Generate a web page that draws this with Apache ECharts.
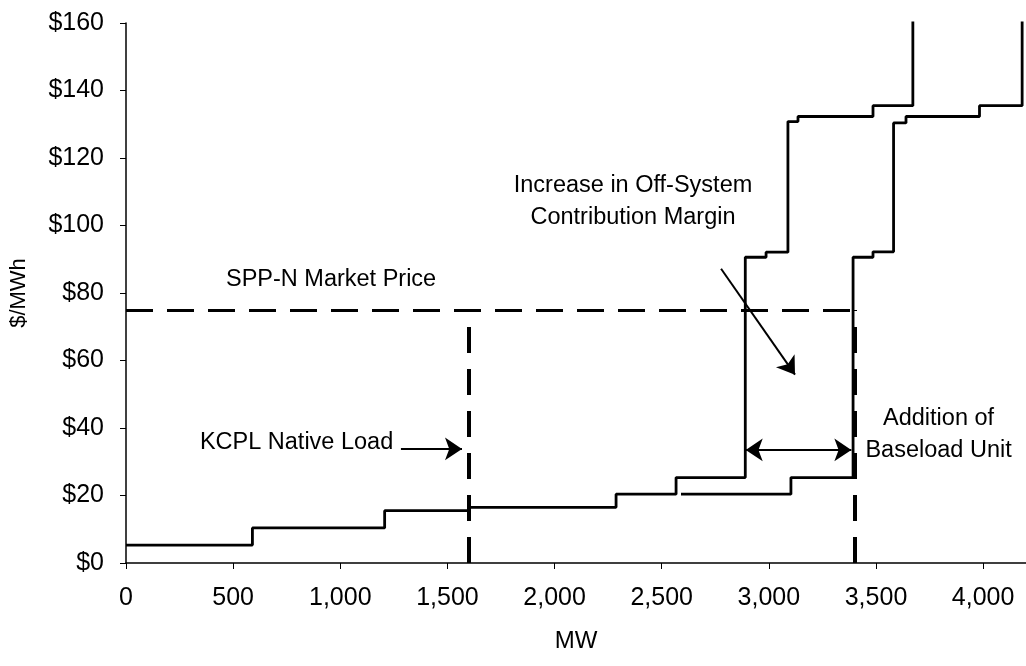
<!DOCTYPE html>
<html>
<head>
<meta charset="utf-8">
<script src="https://cdn.jsdelivr.net/npm/echarts@6/dist/echarts.min.js"></script>
<style>
html,body{margin:0;padding:0;background:#fff;}
#c{width:1026px;height:666px;}
</style>
</head>
<body>
<div id="c"></div>
<script>
// Supply curve without the baseload unit: [MW where step begins, $/MWh]
const curveWithout = [
  [0, 5.3], [590, 10.4], [1207, 15.5], [1600, 16.5], [2287, 20.4],
  [2567, 25.3], [2890, 90.6], [2987, 92.1], [3089, 130.8],
  [3136, 132.3], [3486, 135.5], [3672, 175]
];
// Supply curve with the baseload unit added (visible upper part)
const curveWith = [
  [2590, 20.4], [3103, 25.3], [3393, 90.6], [3486, 92.2],
  [3582, 130.4], [3640, 132.3], [3983, 135.5], [4182, 175]
];
const marketPrice = 75;       // $/MWh
const nativeLoad = 1600;      // MW
const withUnitLoad = 3400;    // MW
const yTicks = [0, 20, 40, 60, 80, 100, 120, 140, 160];
const xTicks = [0, 500, 1000, 1500, 2000, 2500, 3000, 3500, 4000];

const FONT = "'Liberation Sans', Arial, sans-serif";
const chart = echarts.init(document.getElementById('c'), null, {renderer: 'canvas'});

const dashH = {type: [27, 14], color: '#000', width: 3};
const dashV = {type: [26, 16], color: '#000', width: 4};
const arrowStyle = {type: 'solid', color: '#000', width: 2};

function txt(coord, text) {
  return {
    coord: coord, value: text, symbol: 'circle', symbolSize: 0,
    label: {show: true, position: 'inside', formatter: text,
      color: '#000', fontFamily: FONT, fontSize: 23.5, lineHeight: 32, align: 'center', verticalAlign: 'middle'}
  };
}

chart.setOption({
  animation: false,
  backgroundColor: '#fff',
  grid: {left: 126, top: 23, width: 900, height: 540, containLabel: false},
  xAxis: {
    type: 'value', min: 0, max: 4200, interval: 500,
    name: 'MW', nameLocation: 'middle', nameGap: 66,
    nameTextStyle: {color: '#000', fontFamily: FONT, fontSize: 24},
    axisLine: {show: true, onZero: false, lineStyle: {color: '#000', width: 1.5}},
    axisTick: {show: true, length: 6, lineStyle: {color: '#000'}},
    axisLabel: {
      color: '#000', fontFamily: FONT, fontSize: 25, margin: 23,
      showMaxLabel: false,
      formatter: v => xTicks.indexOf(v) >= 0 ? v.toLocaleString('en-US') : ''
    },
    splitLine: {show: false}
  },
  yAxis: {
    type: 'value', min: 0, max: 160, interval: 20,
    name: '$/MWh', nameLocation: 'middle', nameGap: 96, nameRotate: 90,
    nameTextStyle: {color: '#000', fontFamily: FONT, fontSize: 22},
    axisLine: {show: true, lineStyle: {color: '#000', width: 1.5}},
    axisTick: {show: true, length: 6, lineStyle: {color: '#000'}},
    axisLabel: {
      color: '#000', fontFamily: FONT, fontSize: 25, margin: 22,
      formatter: v => yTicks.indexOf(v) >= 0 ? '$' + v : ''
    },
    splitLine: {show: false}
  },
  series: [
    {
      name: 'Without baseload unit', type: 'line', step: 'end',
      data: curveWithout, showSymbol: false, symbol: 'none',
      lineStyle: {color: '#000', width: 2.8}, clip: true,
      markLine: {
        silent: true, animation: false,
        label: {show: false},
        symbol: ['none', 'none'],
        data: [
          [{coord: [0, marketPrice], lineStyle: dashH}, {coord: [withUnitLoad, marketPrice]}],
          [{coord: [nativeLoad, 0], lineStyle: dashV}, {coord: [nativeLoad, 70]}],
          [{coord: [withUnitLoad, 0], lineStyle: dashV}, {coord: [withUnitLoad, marketPrice]}],
          [{coord: [1283, 33.8], lineStyle: arrowStyle, symbol: 'none'}, {coord: [1568, 33.8], symbol: 'arrow', symbolSize: 17}],
          [{coord: [2777, 87.2], lineStyle: arrowStyle, symbol: 'none'}, {coord: [3122, 55.8], symbol: 'arrow', symbolSize: 17}],
          [{coord: [2892, 33.5], lineStyle: arrowStyle, symbol: 'arrow', symbolSize: 17}, {coord: [3385, 33.5], symbol: 'arrow', symbolSize: 17}]
        ]
      },
      markPoint: {
        silent: true, animation: false,
        data: [
          txt([957, 84], 'SPP-N Market Price'),
          txt([796, 35.6], 'KCPL Native Load'),
          txt([2366, 107.2], 'Increase in Off-System\nContribution Margin'),
          txt([3792, 38], 'Addition of\nBaseload Unit')
        ]
      }
    },
    {
      name: 'With baseload unit', type: 'line', step: 'end',
      data: curveWith, showSymbol: false, symbol: 'none',
      lineStyle: {color: '#000', width: 2.8}, clip: true
    }
  ]
});
</script>
</body>
</html>
